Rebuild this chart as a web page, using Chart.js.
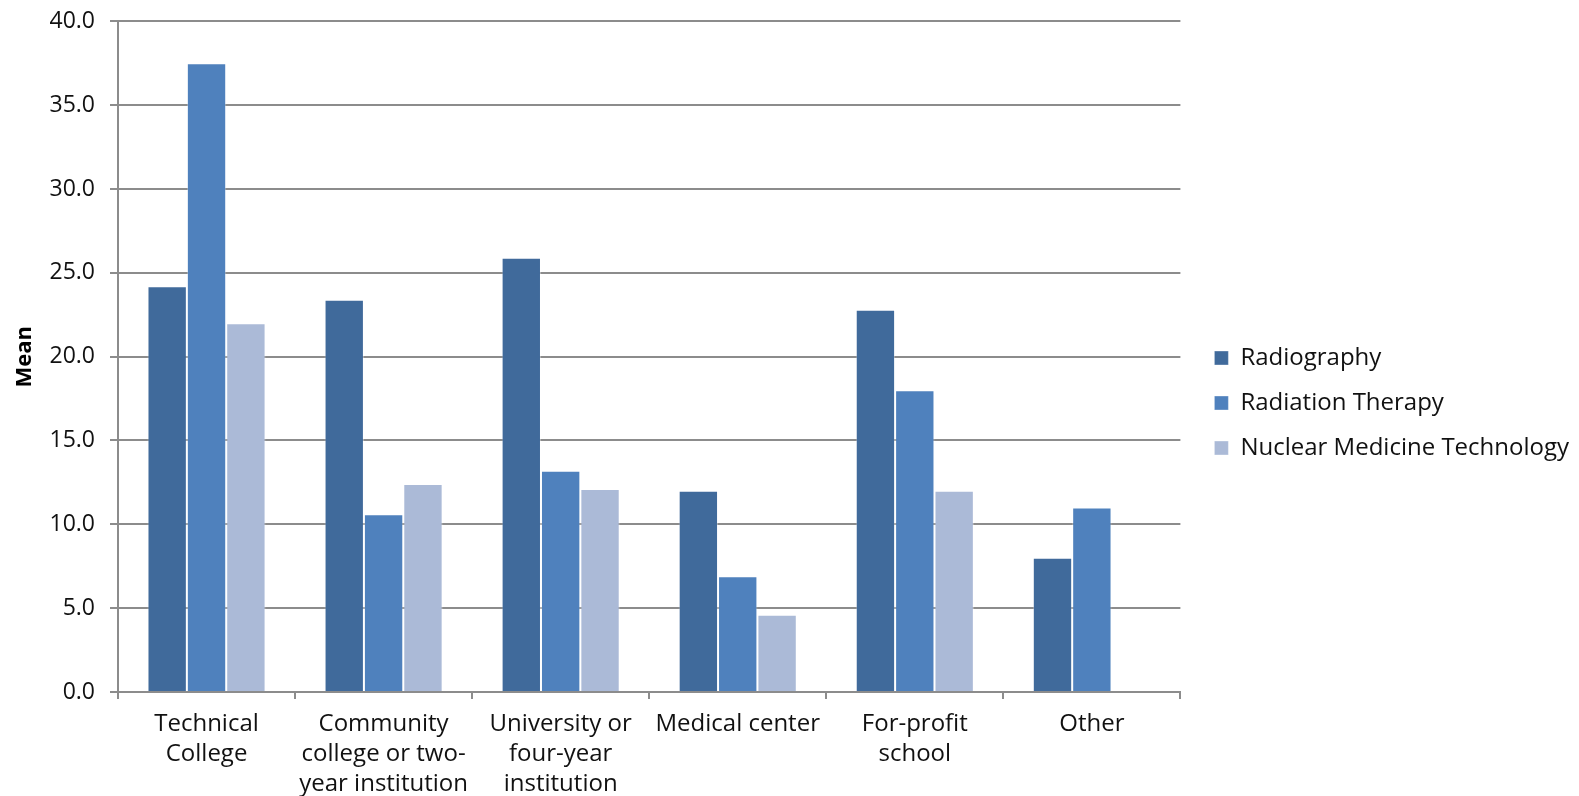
<!DOCTYPE html>
<html>
<head>
<meta charset="utf-8">
<script src="https://cdn.jsdelivr.net/npm/chart.js@4/dist/chart.umd.min.js"></script>
<style>
  html, body { margin: 0; padding: 0; background: #fff; }
  #wrap { width: 1579px; height: 796px; }
</style>
</head>
<body>
<div id="wrap"><canvas id="chart"></canvas></div>
<script>
const categories = [
  ["Technical", "College"],
  ["Community", "college or two-", "year institution"],
  ["University or", "four-year", "institution"],
  "Medical center",
  ["For-profit", "school"],
  "Other"
];
const radiography = [24.2, 23.4, 25.9, 12.0, 22.8, 8.0];
const radiationTherapy = [37.5, 10.6, 13.2, 6.9, 18.0, 11.0];
const nuclearMedicine = [22.0, 12.4, 12.1, 4.6, 12.0, null];

const font = "'Open Sans', 'Noto Sans', sans-serif";
const gridGray = "#8c8c8c";

// extra blank space between plot area and legend items
const legendGap = {
  id: "legendGap",
  beforeLayout(chart) {
    const lg = chart.legend;
    if (!lg || lg._gapWrapped) return;
    const gap = 13;
    const fit = lg.fit;
    lg.fit = function () { fit.call(this); this.width += gap; };
    const draw = lg.draw;
    lg.draw = function () {
      this.ctx.save();
      this.ctx.translate(gap, 0);
      draw.call(this);
      this.ctx.restore();
    };
    lg._gapWrapped = true;
  }
};

const ctx = document.getElementById("chart").getContext("2d");
new Chart(ctx, {
  type: "bar",
  data: {
    labels: categories,
    datasets: [
      { label: "Radiography", data: radiography, backgroundColor: "#406a9b" },
      { label: "Radiation Therapy", data: radiationTherapy, backgroundColor: "#4f81bd" },
      { label: "Nuclear Medicine Technology", data: nuclearMedicine, backgroundColor: "#abbad7" }
    ]
  },
  plugins: [legendGap],
  options: {
    responsive: true,
    maintainAspectRatio: false,
    animation: false,
    layout: { padding: { top: 10, right: 0, bottom: 0, left: 0 } },
    datasets: {
      bar: {
        categoryPercentage: 0.667,
        barPercentage: 1.0,
        borderWidth: 1,
        borderColor: "rgba(255,255,255,0.35)",
        borderSkipped: "bottom"
      }
    },
    plugins: {
      tooltip: { enabled: false },
      legend: {
        position: "right",
        align: "center",
        labels: {
          boxWidth: 14,
          boxHeight: 14,
          padding: 21,
          color: "#111",
          font: { family: font, size: 24 }
        }
      }
    },
    scales: {
      x: {
        grid: {
          offset: true,
          drawOnChartArea: false,
          color: gridGray,
          lineWidth: 2,
          tickLength: 7
        },
        border: { color: gridGray, width: 2 },
        ticks: {
          color: "#111",
          padding: 10,
          maxRotation: 0,
          autoSkip: false,
          font: { family: font, size: 24, lineHeight: 1.25 }
        },
        afterFit: (scale) => { scale.height = 104; }
      },
      y: {
        min: 0,
        max: 40,
        grid: {
          color: gridGray,
          lineWidth: 2,
          tickLength: 8
        },
        border: { color: gridGray, width: 2 },
        ticks: {
          stepSize: 5,
          color: "#111",
          padding: 15,
          font: { family: font, size: 23, lineHeight: 0.55 },
          callback: (v) => v.toFixed(1)
        },
        title: {
          display: true,
          text: "Mean",
          color: "#000",
          padding: { top: 12, bottom: 0 },
          font: { family: font, size: 22, weight: "bold" }
        },
        afterFit: (scale) => { scale.width = 118; }
      }
    }
  }
});
</script>
</body>
</html>
